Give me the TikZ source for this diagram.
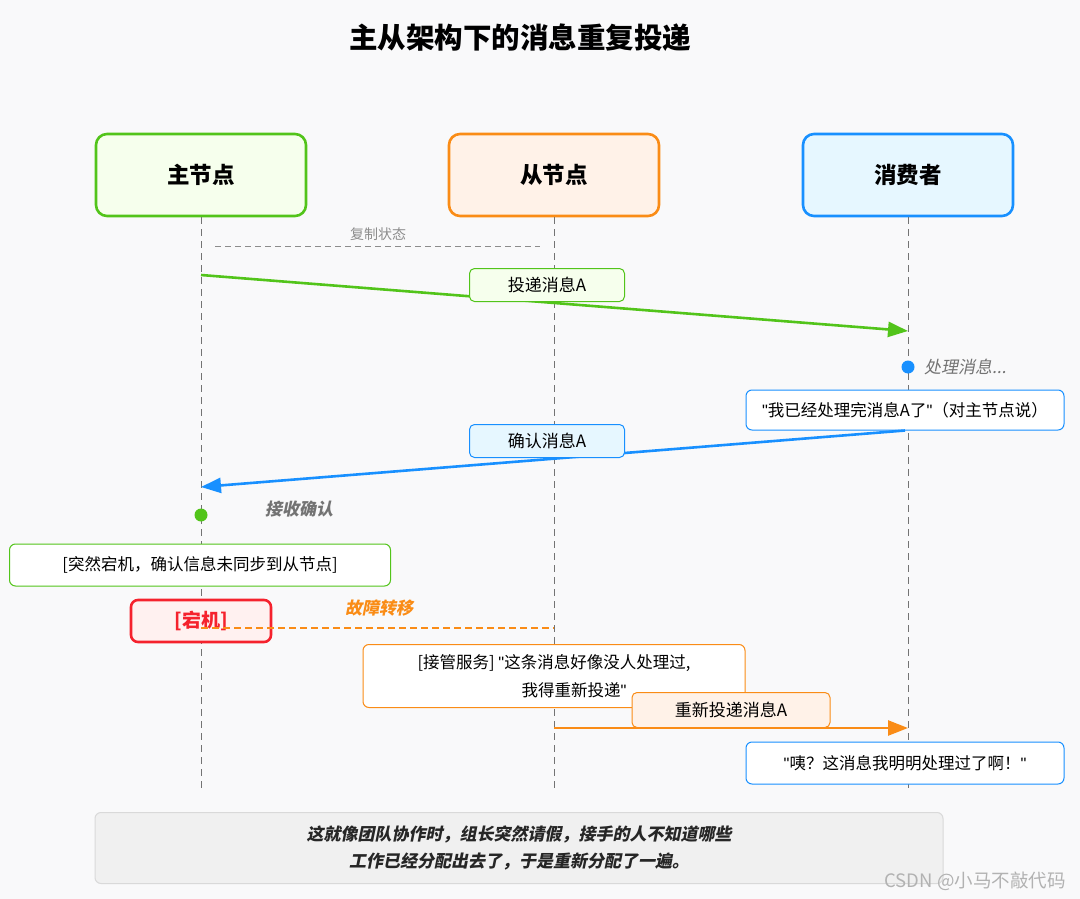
\documentclass[tikz,border=0pt]{standalone}
\usepackage{fontspec}
\setmainfont{Noto Sans CJK SC}
\newfontfamily\schraeg{Noto Sans CJK SC}[FakeSlant=0.2]
\newfontfamily\lat{Liberation Sans}
\usetikzlibrary{arrows.meta,calc}
\definecolor{gruen}{HTML}{52C41A}
\definecolor{gruenhell}{HTML}{F6FFED}
\definecolor{orange}{HTML}{FA8C16}
\definecolor{orangehell}{HTML}{FFF2E8}
\definecolor{blau}{HTML}{1890FF}
\definecolor{blauhell}{HTML}{E6F7FF}
\definecolor{rot}{HTML}{F5222D}
\definecolor{rothell}{HTML}{FFF1F0}
\definecolor{grund}{HTML}{F9F9FA}
\newcommand\fs[1]{\fontsize{#1}{#1}\selectfont}
\newcommand\q{{\lat"}}

\begin{document}
\begin{tikzpicture}[x=1pt,y=-1pt,
  teilnehmer/.style={draw=#1,line width=2.6pt,rounded corners=11pt,minimum width=210pt,minimum height=82pt,font=\fs{22.5}\bfseries},
  etikett/.style={draw=#1,line width=1pt,rounded corners=5pt,minimum width=155pt,minimum height=33pt,font=\fs{17}},
  notiz/.style={draw=#1,fill=white,line width=1pt,rounded corners=6pt,font=\fs{16.5}},
  leben/.style={draw=black!55,dashed,dash pattern=on 7pt off 5pt,line width=.8pt},
  pfeil/.style={draw=#1,line width=2.6pt,-{Triangle[length=20pt,width=15pt]}},
  punkt/.style={circle,fill=#1,inner sep=0pt,minimum size=13pt},
  kursiv/.style={font=\fs{17}\schraeg\bfseries,text=#1}]
  % Hintergrund
  \fill[grund] (0,0) rectangle (1080,899);
  \useasboundingbox (0,0) rectangle (1080,899);
  \node[font=\fs{28.5}\bfseries] (titel) at (520,38) {主从架构下的消息重复投递};
  % Teilnehmer
  \node[teilnehmer=gruen,fill=gruenhell] (master) at (201,175) {主节点};
  \node[teilnehmer=orange,fill=orangehell] (slave) at (554,175) {从节点};
  \node[teilnehmer=blau,fill=blauhell] (consumer) at (908,175) {消费者};
  \coordinate (mEnd) at (201,792);
  \coordinate (sEnd) at (554,792);
  \coordinate (cEnd) at (908,792);
  % Lebenslinien
  \draw[leben] (master.south) -- (mEnd);
  \draw[leben] (slave.south) -- (sEnd);
  \draw[leben] (consumer.south) -- (cEnd);
  % Replikation
  \coordinate (r1) at (215,246);
  \coordinate (r2) at (540,246);
  \draw[leben,black!45,dash pattern=on 6pt off 4pt] (r1) -- (r2);
  \node[font=\fs{14},text=black!45] (repl) at (378,234) {复制状态};
  % Zustellung
  \coordinate (z1) at (201,275);
  \coordinate (z2) at (908,331);
  \draw[pfeil=gruen] (z1) -- (z2);
  \node[etikett=gruen,fill=gruenhell] (zust) at (547,285) {投递消息A};
  \node[punkt=blau] (verarb) at (908,367) {};
  \node[kursiv=black!55,font=\fs{17}\schraeg,right=6pt] (verarbTxt) at (verarb.east) {处理消息...};
  \node[notiz=blau,minimum width=318pt,minimum height=40pt] (fertig) at (905,410) {\q 我已经处理完消息A了\q（对主节点说）};
  % Bestaetigung
  \coordinate (b1) at (201,487);
  \draw[pfeil=blau] (fertig.south) -- (b1);
  \node[etikett=blau,fill=blauhell] (best) at (547,441) {确认消息A};
  \node[punkt=gruen] (empf) at (201,515) {};
  \node[kursiv=black!55] (empfTxt) at (299,509) {接收确认};
  \node[notiz=gruen,minimum width=381pt,minimum height=42pt] (absturz) at (200,565) {[突然宕机，确认信息未同步到从节点]};
  % Ausfall
  \node[draw=rot,fill=rothell,line width=2.6pt,rounded corners=7pt,minimum width=140pt,minimum height=42pt,font=\fs{19}\bfseries,text=rot] (tot) at (201,621) {[宕机]};
  \coordinate (f1) at (201,628);
  \coordinate (f2) at (554,628);
  \draw[orange,line width=2pt,dash pattern=on 7pt off 4pt] (f1) -- (f2);
  \node[kursiv=orange] (failover) at (379,608) {故障转移};
  \node[notiz=orange,minimum width=382pt,minimum height=63pt,align=center] (uebernahme) at (554,676) {{[}接管服务] \q 这条消息好像没人处理过,\\[10pt]\hspace*{40pt}我得重新投递\q};
  % erneute Zustellung
  \coordinate (n1) at (554,728);
  \coordinate (n2) at (908,728);
  \draw[pfeil=orange] (n1) -- (n2);
  \node[etikett=orange,fill=orangehell,minimum width=198pt,minimum height=35pt] (neu) at (731,710) {重新投递消息A};
  \node[notiz=blau,minimum width=318pt,minimum height=42pt] (huch) at (905,763) {\q 咦？这消息我明明处理过了啊！\q};
  % Fazit
  \node[draw=black!15,fill=black!6,line width=1pt,rounded corners=6pt,minimum width=848pt,minimum height=71pt,align=center,font=\fs{17}\schraeg\bfseries,text=black!85] (fazit) at (519,848) {这就像团队协作时，组长突然请假，接手的人不知道哪些\\[9pt]工作已经分配出去了，于是重新分配了一遍。};
  \node[font=\fs{18.5},text=black!30] (wz) at (975,881) {CSDN @小马不敲代码};
\end{tikzpicture}
\end{document}
